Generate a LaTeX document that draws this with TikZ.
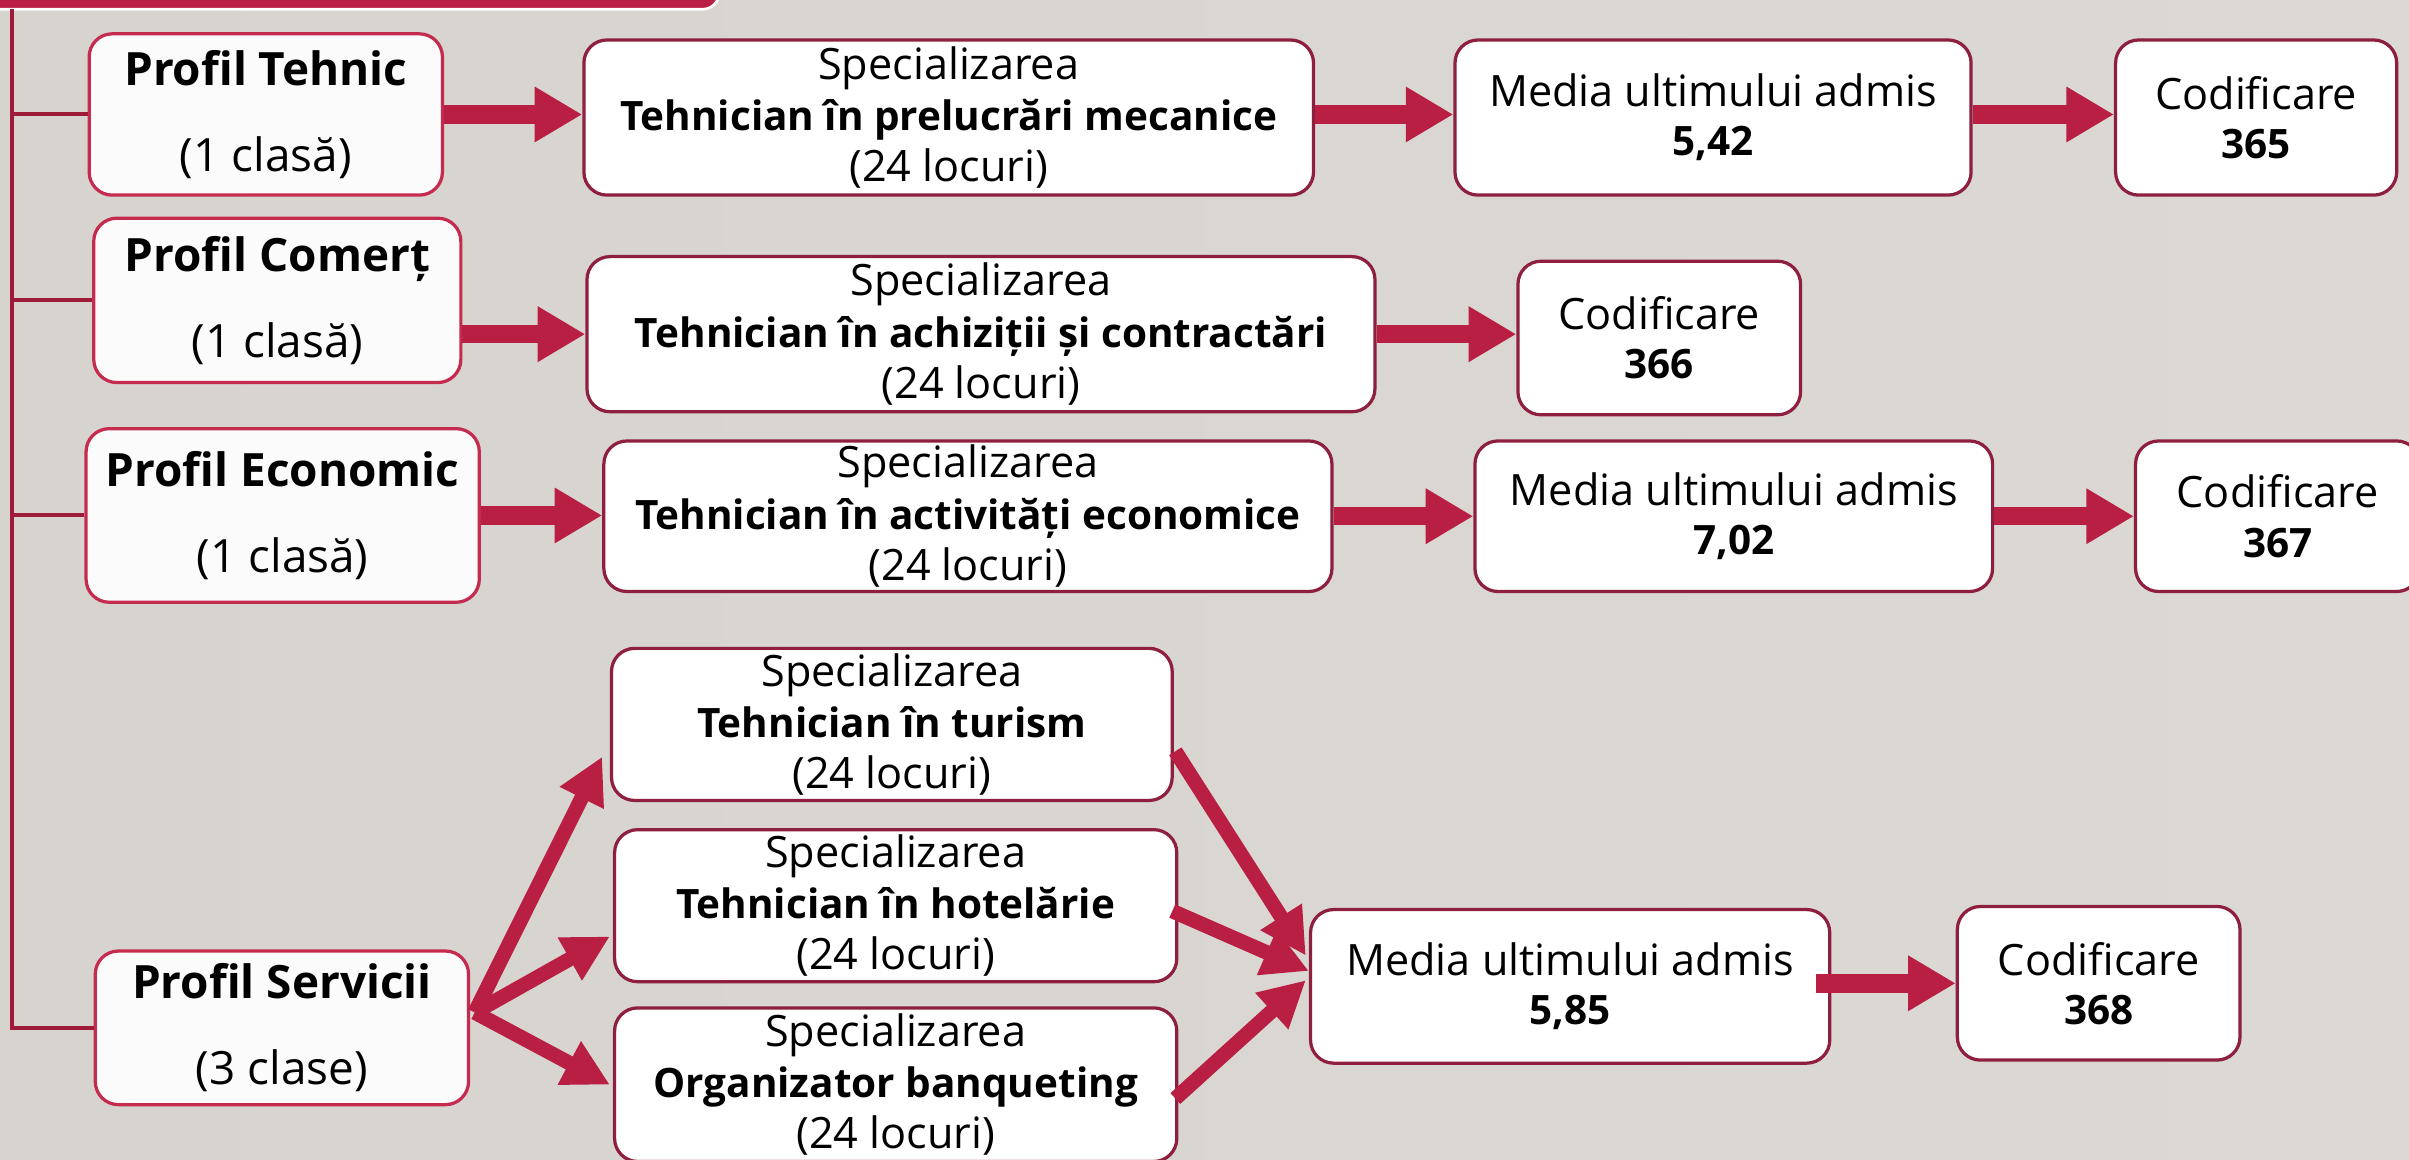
\documentclass[tikz,border=0pt]{standalone}
\usepackage{fontspec}
\setmainfont{Open Sans}
\usetikzlibrary{arrows.meta,calc}
\definecolor{arrowred}{RGB}{185,30,67}
\definecolor{pborder}{RGB}{196,43,78}
\definecolor{sborder}{RGB}{142,31,63}
\definecolor{linered}{RGB}{160,27,58}
\definecolor{bgl}{RGB}{215,212,207}
\definecolor{bgm}{RGB}{232,231,228}
\definecolor{bgr}{RGB}{220,217,212}
\newcommand{\bl}[1]{{\fontsize{15}{19}\selectfont\bfseries #1}}
\newcommand{\pbl}[1]{{\bfseries #1}}
\begin{document}
\begin{tikzpicture}[x=0.02cm,y=-0.02cm,
  box/.style={rounded corners=0.3cm, line width=1.2pt, fill=white, inner sep=0pt, align=center, text=black},
  pbox/.style={box, draw=pborder, fill=white!97!gray, font=\fontsize{17}{31.9}\selectfont},
  sbox/.style={box, draw=sborder, font=\fontsize{16}{19}\selectfont},
  mbox/.style={box, draw=sborder, font=\fontsize{16}{18.2}\selectfont},
  bigarrow/.style={draw=arrowred, line width=0.24cm, -{Triangle[length=0.62cm,width=0.68cm]}},
  diagarrow/.style={draw=arrowred, line width=0.19cm, -{Triangle[length=0.6cm,width=0.6cm]}},
  branch/.style={draw=linered, line width=1.5pt}]
\useasboundingbox (0,0) rectangle (1568,755);
\shade[left color=bgl, middle color=bgm, right color=bgr] (0,0) rectangle (1568,755);
\path[fill=arrowred, draw=white, line width=1pt, rounded corners=6] (-20,-20) rectangle (468,6);

% row 1
\node[pbox, minimum width=4.6cm, minimum height=2.1cm] (p1) at (173,74.5) {\pbl{Profil Tehnic}\\(1 clasă)};
\node[sbox, minimum width=9.5cm, minimum height=2.02cm] (s1) at (617.5,76.5) {Specializarea\\\bl{Tehnician în prelucrări mecanice}\\(24 locuri)};
\node[mbox, minimum width=6.72cm, minimum height=2.02cm] (m1) at (1115,76.5) {Media ultimului admis\\\bl{5,42}};
\node[mbox, minimum width=3.66cm, minimum height=2.02cm] (c1) at (1468.5,76.5) {Codificare\\\bl{365}};

% row 2
\node[pbox, minimum width=4.78cm, minimum height=2.14cm] (p2) at (180.5,195.5) {\pbl{Profil Comerț}\\(1 clasă)};
\node[sbox, minimum width=10.26cm, minimum height=2.02cm] (s2) at (638.5,217.5) {Specializarea\\\bl{Tehnician în achiziții și contractări}\\(24 locuri)};
\node[mbox, minimum width=3.68cm, minimum height=2.0cm] (c2) at (1080,220) {Codificare\\\bl{366}};

% row 3
\node[pbox, minimum width=5.12cm, minimum height=2.26cm] (p3) at (184,335.5) {\pbl{Profil Economic}\\(1 clasă)};
\node[sbox, minimum width=9.48cm, minimum height=1.96cm] (s3) at (630,336) {Specializarea\\\bl{Tehnician în activități economice}\\(24 locuri)};
\node[mbox, minimum width=6.74cm, minimum height=1.96cm] (m2) at (1128.5,336) {Media ultimului admis\\\bl{7,02}};
\node[mbox, minimum width=3.7cm, minimum height=1.96cm] (c3) at (1482.5,336) {Codificare\\\bl{367}};

% row 4
\node[pbox, minimum width=4.86cm, minimum height=2.0cm] (p4) at (183.5,669) {\pbl{Profil Servicii}\\(3 clase)};
\node[sbox, minimum width=7.3cm, minimum height=1.98cm] (s4) at (580.5,471.5) {Specializarea\\\bl{Tehnician în turism}\\(24 locuri)};
\node[sbox, minimum width=7.32cm, minimum height=1.98cm] (s5) at (583,589.5) {Specializarea\\\bl{Tehnician în hotelărie}\\(24 locuri)};
\node[sbox, minimum width=7.32cm, minimum height=2.0cm] (s6) at (583,706) {Specializarea\\\bl{Organizator banqueting}\\(24 locuri)};
\node[mbox, minimum width=6.76cm, minimum height=2.0cm] (m3) at (1022,642) {Media ultimului admis\\\bl{5,85}};
\node[mbox, minimum width=3.68cm, minimum height=2.0cm] (c4) at (1366,640) {Codificare\\\bl{368}};

% tree lines
\coordinate (vtop) at (8,6);
\draw[branch] (vtop) |- (p4.west);
\draw[branch] (vtop |- p1.west) -- (p1.west);
\draw[branch] (vtop |- p2.west) -- (p2.west);
\draw[branch] (vtop |- p3.west) -- (p3.west);

% horizontal arrows
\draw[bigarrow] (p1.east) -- (p1.east -| s1.west);
\draw[bigarrow] (s1.east |- p1.east) -- (p1.east -| m1.west);
\draw[bigarrow] (m1.east |- p1.east) -- (p1.east -| c1.west);
\draw[bigarrow] (p2.east |- s2.west) -- (s2.west);
\draw[bigarrow] (s2.east) -- (s2.east -| c2.west);
\draw[bigarrow] (p3.east) -- (p3.east -| s3.west);
\draw[bigarrow] (s3.east) -- (s3.east -| m2.west);
\draw[bigarrow] (m2.east) -- (m2.east -| c3.west);
\draw[bigarrow] ($(m3.east)+(-10,-2)$) -- (c4.west);

% diagonal arrows
\coordinate (ps) at ($(p4.east)+(3,-10)$);
\draw[diagarrow] (ps) -- ($(s4.west)+(-5,21)$);
\draw[diagarrow] (ps) -- ($(s5.west)+(-2,20)$);
\draw[diagarrow] (ps) -- ($(s6.west)+(-2,0)$);
\draw[diagarrow] ($(s4.east)+(1,17.5)$) -- ($(m3.west)+(-2,-20)$);
\draw[diagarrow] ($(s5.east)+(-4,3.5)$) -- ($(m3.west)+(0,-10)$);
\draw[diagarrow] ($(s6.east)+(-2,9)$) -- ($(m3.west)+(-2,-4)$);
\end{tikzpicture}
\end{document}
